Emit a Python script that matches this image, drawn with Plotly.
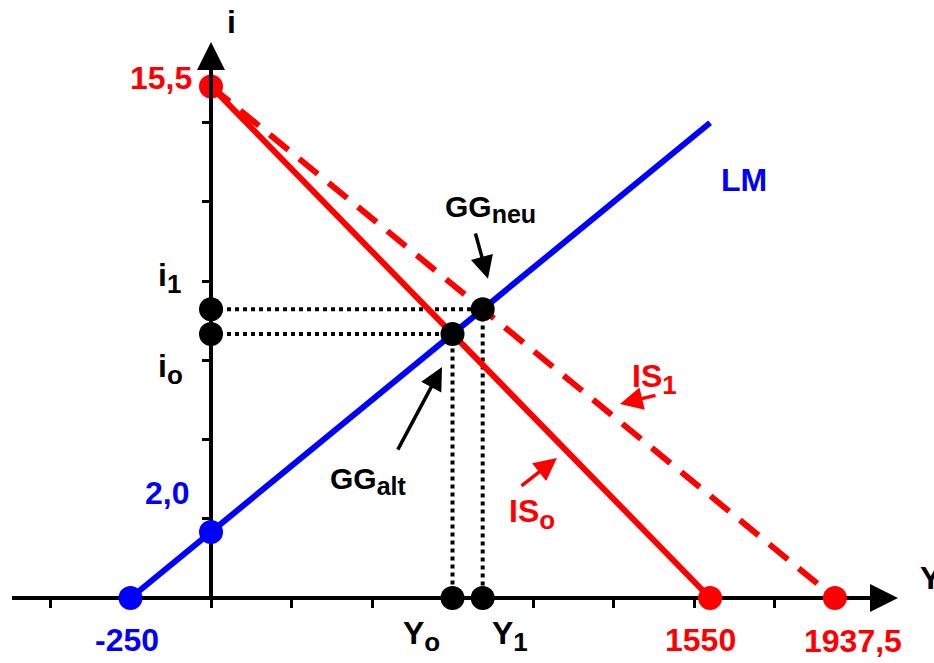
import plotly.graph_objects as go

# --- model values (Y = income, i = interest rate) ---
lm_Y = [-250, 1550]
lm_i = [0.0, 14.4]
is0_Y = [0, 1550]
is0_i = [15.5, 0.0]
is1_Y = [0, 1937.5]
is1_i = [15.5, 0.0]

gg_alt = (750.0, 8.0)     # old equilibrium (Y0, i0)
gg_neu = (843.75, 8.75)   # new equilibrium (Y1, i1)

red_pts_Y = [0, 1550, 1937.5]
red_pts_i = [15.5, 0.0, 0.0]
blue_pts_Y = [-250, 0]
blue_pts_i = [0.0, 2.0]

x_ticks = [-500, -250, 0, 250, 500, 750, 1000, 1250, 1500, 1750]
y_ticks = [2.4, 4.8, 7.2, 9.6, 12.0, 14.4]

X_RANGE = [-655.3, 2245.3]
Y_RANGE = [-1.97, 18.12]

RED = "#FF0000"
BLUE = "#0000FF"
BLACK = "#000000"
FONT = "Arial, Liberation Sans, sans-serif"

fig = go.Figure()

# dotted guide lines from the equilibria to the axes
for (Yv, iv) in (gg_alt, gg_neu):
    fig.add_trace(go.Scatter(x=[0, Yv, Yv], y=[iv, iv, 0], mode="lines",
                             line=dict(color=BLACK, width=4, dash="4px,4px"),
                             hoverinfo="skip"))

# IS / LM curves
fig.add_trace(go.Scatter(x=is1_Y, y=is1_i, mode="lines",
                         line=dict(color=RED, width=6, dash="24px,14px")))
fig.add_trace(go.Scatter(x=is0_Y, y=is0_i, mode="lines",
                         line=dict(color=RED, width=6)))
fig.add_trace(go.Scatter(x=lm_Y, y=lm_i, mode="lines",
                         line=dict(color=BLUE, width=6)))

# points
fig.add_trace(go.Scatter(x=red_pts_Y, y=red_pts_i, mode="markers",
                         marker=dict(color=RED, size=24), cliponaxis=False))
fig.add_trace(go.Scatter(x=blue_pts_Y, y=blue_pts_i, mode="markers",
                         marker=dict(color=BLUE, size=24), cliponaxis=False))
blk_Y = [gg_alt[0], gg_neu[0], 0, 0, gg_alt[0], gg_neu[0]]
blk_i = [gg_alt[1], gg_neu[1], gg_alt[1], gg_neu[1], 0, 0]
fig.add_trace(go.Scatter(x=blk_Y, y=blk_i, mode="markers",
                         marker=dict(color=BLACK, size=24), cliponaxis=False))

# axis lines (drawn below the points)
x_end, y_end = 2133.5, 16.85
fig.add_shape(type="line", x0=-618, y0=0, x1=x_end - 40, y1=0,
              line=dict(color=BLACK, width=4), layer="below")
fig.add_shape(type="line", x0=0, y0=0, x1=0, y1=y_end - 1.0,
              line=dict(color=BLACK, width=4), layer="below")

annotations = []

def arrow(x, y, ax, ay, color, width=3, head=2, size=1.3):
    annotations.append(dict(x=x, y=y, ax=ax, ay=ay, xref="x", yref="y",
                            axref="x", ayref="y", text="", showarrow=True,
                            arrowhead=head, arrowsize=size, arrowwidth=width,
                            arrowcolor=color, standoff=0, startstandoff=0))

# axis arrowheads
arrow(x_end, 0, x_end - 80, 0, BLACK, width=4, size=1.4)
arrow(0, y_end, 0, y_end - 2.0, BLACK, width=4, size=1.4)

# pointer arrows
arrow(860.2, 9.67, 819.9, 11.09, BLACK, width=3.5)
arrow(717.4, 7.0, 577.6, 4.45, BLACK, width=3.5)
arrow(1074.5, 4.24, 959.6, 3.36, RED, width=3.5)
arrow(1270.2, 5.88, 1385.0, 6.15, RED, width=3.5)


def sub(base, low, low_size=26):
    return f"<b>{base}<sub><span style='font-size:{low_size}px'>{low}</span></sub></b>"


def label(x, y, text, color, size=32, xanchor="center", yanchor="middle"):
    annotations.append(dict(x=x, y=y, xref="x", yref="y", text=text,
                            showarrow=False, xanchor=xanchor, yanchor=yanchor,
                            font=dict(family=FONT, size=size, color=color)))

label(65, 17.45, "<b>i</b>", BLACK)
label(2196, 0.6, "<b>Y</b>", BLACK, xanchor="left")
label(-52, 15.75, "<b>15,5</b>", RED, xanchor="right")
label(-62, 3.18, "<b>2,0</b>", BLUE, xanchor="right")
label(-261, -1.27, "<b>-250</b>", BLUE)
label(1518.6, -1.27, "<b>1550</b>", RED)
label(1993.8, -1.30, "<b>1937,5</b>", RED)
label(655, -1.15, sub("Y", "o"), BLACK)
label(930, -1.15, sub("Y", "1"), BLACK)
label(-130, 9.7, sub("i", "1"), BLACK)
label(-125, 6.95, sub("i", "o"), BLACK)
label(866.5, 11.8, sub("GG", "neu", 25), BLACK, size=30)
label(490, 3.55, sub("GG", "alt", 25), BLACK, size=30)
label(1655, 12.67, "<b>LM</b>", BLUE)
label(1376, 6.65, sub("IS", "1"), RED)
label(998, 2.55, sub("IS", "o"), RED)


def frac(v, rng):
    return (v - rng[0]) / (rng[1] - rng[0])


fig.update_layout(
    width=934, height=663,
    margin=dict(l=0, r=0, t=0, b=0),
    paper_bgcolor="white", plot_bgcolor="white",
    showlegend=False,
    annotations=annotations,
    xaxis=dict(range=X_RANGE, showgrid=False, zeroline=False, showline=False,
               showticklabels=False, ticks="outside", ticklen=9, tickwidth=3,
               tickcolor=BLACK, tickvals=x_ticks, anchor="free",
               position=frac(0, Y_RANGE), layer="below traces", fixedrange=True),
    yaxis=dict(range=Y_RANGE, showgrid=False, zeroline=False, showline=False,
               showticklabels=False, ticks="outside", ticklen=9, tickwidth=3,
               tickcolor=BLACK, tickvals=y_ticks, anchor="free",
               position=frac(0, X_RANGE), layer="below traces", fixedrange=True),
)

fig.write_html("out.html")
